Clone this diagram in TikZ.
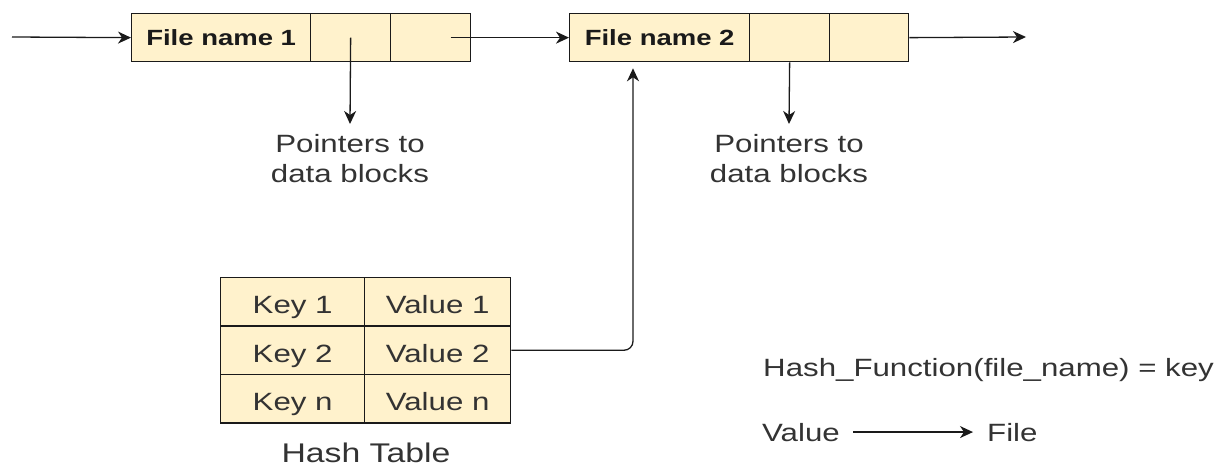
\documentclass[tikz,border=0pt]{standalone}
\usepackage{fontspec}
\setmainfont{Liberation Sans}[FakeStretch=1.25]
\usetikzlibrary{arrows.meta}
\definecolor{cellfill}{HTML}{FFF2CC}
\definecolor{txt}{HTML}{333333}
\definecolor{ln}{HTML}{1A1A1A}
\begin{document}
\begin{tikzpicture}[x=1pt,y=-1pt,
  cell/.style={draw=ln, line width=1.3pt, fill=cellfill, anchor=north west,
    minimum height=48pt, inner sep=0pt, text=ln, text height=24pt, text depth=0pt},
  namecell/.style={cell, minimum width=179pt, font=\fontsize{22}{26}\selectfont\bfseries, text height=16pt, text depth=0pt},
  ptrcell/.style={cell, minimum width=80pt},
  keycell/.style={cell, minimum width=144pt, minimum height=48.4pt, font=\fontsize{25}{30}\selectfont, text=txt},
  valcell/.style={cell, minimum width=146pt, minimum height=48.4pt, font=\fontsize{25}{30}\selectfont, text=txt},
  lab/.style={text=txt, align=center, font=\fontsize{25}{30}\selectfont, inner sep=0pt},
  arr/.style={draw=ln, line width=1.3pt, -{Stealth[length=13pt,width=12pt,inset=4pt]}}
]
\useasboundingbox (0,0) rectangle (1229,468);

% linked list of files
\node[namecell] (f1a) at (131,13) {File name 1};
\node[ptrcell]  (f1b) at (310,13) {};
\node[ptrcell]  (f1c) at (390,13) {};
\node[namecell, minimum width=180pt] (f2a) at (569,13) {File name 2};
\node[ptrcell]  (f2b) at (749,13) {};
\node[ptrcell, minimum width=79pt] (f2c) at (829,13) {};

\coordinate (in) at (12,37);
\coordinate (out) at (1026,37);

\node[lab, anchor=north] (lab1) at (350,134) {Pointers to\\data blocks};
\node[lab, anchor=north] (lab2) at (789,134) {Pointers to\\data blocks};

\draw[arr] (in) -- (f1a.west);
\draw[arr] ([xshift=20pt]f1c.center) -- (f2a.west);
\draw[arr] (f2c.east) -- (out);
\draw[arr] (f1b.center) -- ([yshift=10pt]lab1.north);
\draw[arr] (f2b.south) -- ([yshift=10pt]lab2.north);

% hash table
\node[keycell] (k1) at (220,277) {Key 1};
\node[valcell] (v1) at (364,277) {Value 1};
\node[keycell] (k2) at (220,325.4) {Key 2};
\node[valcell] (v2) at (364,325.4) {Value 2};
\node[keycell] (kn) at (220,373.8) {Key n};
\node[valcell] (vn) at (364,373.8) {Value n};
\node[lab, font=\fontsize{27}{32}\selectfont, anchor=base] (ht) at (366,462) {Hash Table};

\draw[arr, rounded corners=9pt] (v2.east) -| ([xshift=64pt,yshift=-6pt]f2a.south west);

% legend
\node[lab, anchor=base west] (hf) at (763,376) {Hash\_Function(file\_name) = key};
\node[lab, anchor=base west] (val) at (762,441) {Value};
\node[lab, anchor=base west] (file) at (987,441) {File};
\draw[arr, shorten <=13pt, shorten >=14pt] (val.east) -- (file.west);
\end{tikzpicture}
\end{document}
